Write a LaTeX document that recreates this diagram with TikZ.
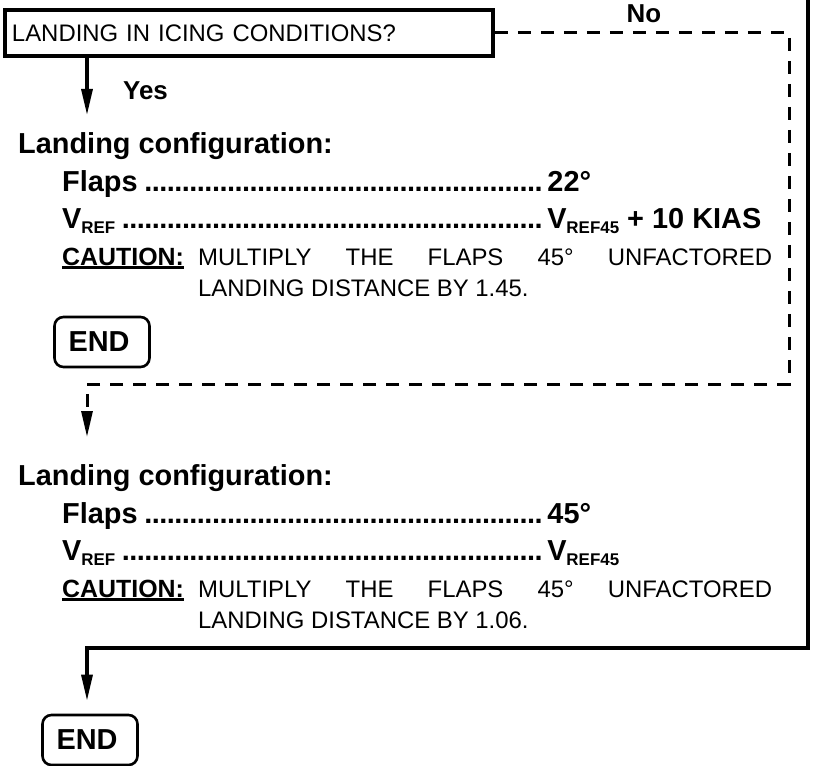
\documentclass[tikz,border=0pt]{standalone}
\usepackage{fontspec}
\setmainfont{Liberation Sans}
\usetikzlibrary{arrows.meta}

% font sizes (1 unit = 1bp)
\newcommand{\boldtxt}{\fontsize{29}{34}\selectfont\bfseries}
\newcommand{\labeltxt}{\fontsize{26}{30}\selectfont\bfseries}
\newcommand{\cauttxt}{\fontsize{25}{30}\selectfont\bfseries}
\newcommand{\plaintxt}{\fontsize{24}{29}\selectfont}
% V with a small subscript
\newcommand{\vsub}[1]{V\raisebox{-5bp}{\fontsize{17}{17}\selectfont\bfseries #1}}
% dotted leader
\newcommand{\dotlead}{\leaders\hbox to 7.5bp{\hss.\hss}\hfill}
% underlined word
\newsavebox{\ulbox}
\newcommand{\ulword}[1]{\sbox{\ulbox}{#1}\rlap{\rule[-4bp]{\wd\ulbox}{2.6bp}}\usebox{\ulbox}}

\begin{document}
\begin{tikzpicture}[
  x=1bp, y=-1bp,
  line cap=butt,
  line join=miter,
  txt/.style={inner sep=0pt, anchor=base west},
  bold/.style={txt, font=\boldtxt},
  plain/.style={txt, font=\plaintxt},
  caution/.style={txt, font=\cauttxt},
  question/.style={draw, line width=3.6bp, text width=474bp, inner xsep=7bp,
    minimum height=46bp, align=left, font=\plaintxt},
  endbox/.style={draw, rounded corners=9bp, line width=2.6bp,
    text width=67bp, inner xsep=14bp, align=left,
    minimum height=50bp, font=\boldtxt},
  flow/.style={line width=3.2bp, -{Triangle[length=26bp,width=11bp]}},
  noflow/.style={flow, line width=3bp, dash pattern=on 13bp off 10bp}
]
  \useasboundingbox (0,0) rectangle (813,766);

  % Question box
  \node[question] (quest) at (249,33) {LANDING IN ICING CONDITIONS?};

  % Branch labels
  \node[txt, font=\labeltxt, anchor=base] (no)  at (644,23) {No};
  \node[txt, font=\labeltxt]              (yes) at (123,99) {Yes};

  % Yes branch: icing configuration
  \node[bold] (cfgA)  at (18,153) {Landing configuration:};
  \node[bold] (flapA) at (62,191) {\makebox[485bp][l]{Flaps\dotlead}22°};
  \node[bold] (vrefA) at (62,228)
    {\makebox[485bp][l]{\vsub{REF}\,\dotlead}\vsub{REF45} + 10 KIAS};
  \node[caution] (cautA) at (62,265) {\ulword{CAUTION:}};
  \node[plain] (multA) at (198,265)
    {\makebox[574bp][s]{MULTIPLY THE FLAPS 45° UNFACTORED}};
  \node[plain] (distA) at (198,296) {LANDING DISTANCE BY 1.45.};
  \node[endbox] (endA) at (102,342) {END};

  % No branch: normal configuration
  \node[bold] (cfgB)  at (18,485) {Landing configuration:};
  \node[bold] (flapB) at (62,523) {\makebox[485bp][l]{Flaps\dotlead}45°};
  \node[bold] (vrefB) at (62,560)
    {\makebox[485bp][l]{\vsub{REF}\,\dotlead}\vsub{REF45}};
  \node[caution] (cautB) at (62,597) {\ulword{CAUTION:}};
  \node[plain] (multB) at (198,597)
    {\makebox[574bp][s]{MULTIPLY THE FLAPS 45° UNFACTORED}};
  \node[plain] (distB) at (198,628) {LANDING DISTANCE BY 1.06.};
  \node[endbox] (endB) at (90,740) {END};

  % Turning points of the connectors
  \coordinate (yesTip)   at (87,115);
  \coordinate (noRight)  at (789,33);
  \coordinate (noDown)   at (789,384);
  \coordinate (noLeft)   at (87,384);
  \coordinate (noTip)    at (87,437);
  \coordinate (rightTop) at (808,0);
  \coordinate (rightBot) at (808,648);
  \coordinate (joinLeft) at (87,648);

  % Yes arrow
  \draw[flow] (quest.south -| yesTip) -- (yesTip);

  % No path (dashed)
  \draw[noflow] (quest.east) -- (noRight) -- (noDown) -- (noLeft) -- (noTip);

  % Solid return line to the last END
  \draw[flow, shorten >=13bp] (rightTop) -- (rightBot) -- (joinLeft)
    -- (joinLeft |- endB.north);
\end{tikzpicture}
\end{document}
